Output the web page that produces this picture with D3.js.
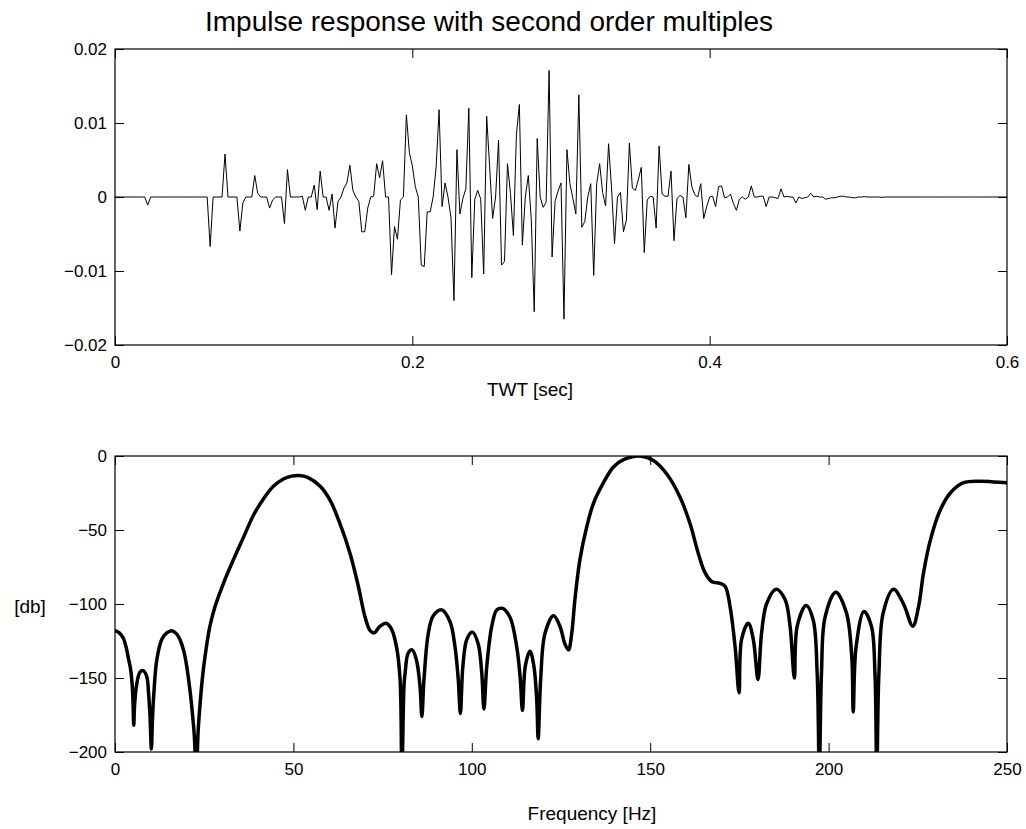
<!DOCTYPE html>
<html>
<head>
<meta charset="utf-8">
<script src="https://cdn.jsdelivr.net/npm/d3@7"></script>
<style>
    body { margin: 0; background: #fff; }
    svg { font-family: Arial, "Liberation Sans", sans-serif; }
    .tick line { stroke: #000; }
    .tick text { fill: #000; }
</style>
</head>
<body>
<div id="chart"></div>
<script>
// impulse response, one sample every 2 ms, values in units of 1e-3
const sampleStep = 0.002;
const impulseMilli = [
    0, 0, 0, 0, 0, 0, 0, 0, 0, 0,
    0, -1.1, 0, 0, 0, 0, 0, 0, 0, 0,
    0, 0, 0, 0, 0, 0, 0, 0, 0, 0,
    0, 0, -6.7, 0, 0, 0, 0, 5.8, 0, 0,
    0, 0, -4.6, -0.8, 0, 0, 0, 2.9, 0.5, 0,
    0, 0, -1.5, -0.4, 0, 0, 0, -3.6, 3.7, 0,
    0, 0, 0, 0.1, -1.8, 0, 0, 1.6, -1.7, 3.5,
    0, 0, -1.8, 0.4, -4.2, -0.6, 0, 1.2, 1.9, 4.3,
    0.9, 0, -0.6, -4.7, -4.7, -1.5, 0, 0.1, 4.5, 2.6,
    4.9, 0, 0, -10.5, -4.0, -5.7, -0.4, 0, 11.1, 6.0,
    4.2, 1.4, 0, -9.2, -9.4, -2.0, -2.0, 0, 4.0, 11.8,
    -1.3, 1.9, 0, -2.8, -14.0, 6.4, -2.3, -0.2, 1.1, 12.0,
    -10.9, -0.3, 0.9, -0.3, -10.4, 10.9, 4.1, -2.9, 0, 7.7,
    -9.2, -8.7, 4.5, 0.5, -5.2, 8.4, 12.5, -6.5, 0, 2.9,
    -3.0, -15.5, 7.9, 0, -1.4, -0.7, 17.1, -8.1, -0.6, 0.8,
    1.9, -16.5, 6.4, 1.8, -0.2, -2.3, 13.8, -4.1, -3.3, 0,
    1.8, -10.6, 1.8, 4.5, 0.6, -1.2, 7.2, 1.2, -6.3, 0,
    0.6, -4.7, -3.1, 7.3, 1.2, 0.9, 2.3, 4.0, -7.5, -0.4,
    0.1, 0, -4.2, 6.9, 0.4, 0.1, 0.1, 3.5, -5.9, -0.2,
    0.2, 0, -2.8, 4.4, 1.4, 0.3, 0, 1.8, -2.9, -1.3,
    0, 0.1, -1.3, 1.4, 1.5, -0.1, 0, 0.4, -0.9, -1.8,
    -0.3, 0, -0.3, 0, 1.5, 0, 0, 0.1, 0.1, -1.3,
    0, 0, -0.1, -0.2, 1.1, 0, 0.1, 0, 0, -0.8,
    0, -0.2, -0.1, 0, 0.5, 0, 0.1, 0, 0, -0.3,
    -0.2, -0.1, -0.1, 0, 0.1, 0.1, 0, 0, -0.1, -0.1,
    0, 0, 0.05, 0, 0, 0, 0, 0, -0.05, 0,
    0, 0, 0, 0, 0, 0, 0, 0, 0, 0,
    0, 0, 0, 0, 0, 0, 0, 0, 0, 0,
    0, 0, 0, 0, 0, 0, 0, 0, 0, 0,
    0, 0, 0, 0, 0, 0, 0, 0, 0, 0,
    0
];

// amplitude spectrum
const freqHz = [
    0, 1.2, 2.3, 3.2, 3.7, 4.3, 4.7, 5.0, 5.25, 5.5,
    6.1, 7.0, 7.9, 8.9, 9.4, 9.8, 10.2, 10.5, 10.9, 11.7,
    13.1, 14.5, 15.9, 17.2, 18.2, 19.3, 20.1, 21.0, 21.5, 22.2,
    22.8, 23.3, 23.8, 24.5, 25.2, 26.6, 28.0, 30.4, 33.2, 36.0,
    38.8, 41.6, 44.4, 47.2, 49.5, 51.6, 54.0, 57.5, 60.3, 63.1, 65.9,
    68.2, 70.1, 71.5, 72.6, 74.3, 76.0, 77.5, 78.9, 79.9, 80.4,
    81.0, 81.3, 82.2, 83.3, 84.5, 85.5, 86.0, 86.6, 87.8, 89.2,
    91.6, 93.9, 95.3, 96.2, 96.8, 97.5, 98.6, 100.2, 101.8, 102.8,
    103.4, 104.2, 105.6, 107.0, 108.6, 110.7, 112.6, 113.6, 114.2, 115.0,
    116.3, 117.4, 118.2, 118.6, 119.3, 120.5, 122.9, 124.7, 126.1, 127.1,
    128.0, 128.9, 130.3, 132.2, 134.1, 136.9, 139.7, 142.5, 147.1, 150.9,
    154.6, 158.4, 161.2, 163.5, 165.4, 167.3, 169.6, 171.0, 172.4, 173.8,
    174.9, 175.6, 177.5, 178.9, 180.2, 181.2, 182.6, 185.3, 187.8, 189.2,
    190.4, 191.2, 193.7, 195.7, 196.8, 197.4, 198.0, 199.0, 202.0, 205.0,
    206.5, 206.9, 207.7, 209.9, 212.0, 213.0, 213.5, 214.1, 215.3, 218.2,
    221.0, 223.6, 225.2, 226.6, 228.5, 231.2, 234.1, 237.8, 242.5, 246.2,
    250
];
const gainDb = [
    -118, -119.5, -123, -130, -136, -143, -151, -163, -182, -168,
    -154, -146, -145, -149, -160, -175, -198, -178, -160, -138,
    -124, -119.5, -118, -120, -124, -132, -142, -158, -169, -188,
    -215, -186, -169, -150, -136, -115, -102, -86, -70, -55,
    -40, -29, -20.5, -15.5, -13.6, -13.2, -14.4, -20.5, -30, -46, -66,
    -88, -109, -118, -119.5, -115, -113, -117, -129, -151, -215,
    -155, -147, -133, -131, -138, -156, -176, -151, -120, -108,
    -104, -112, -129, -151, -174, -142, -124, -119, -127, -147,
    -171, -142, -115, -104, -103, -109, -129, -151, -172, -142,
    -132, -142, -165, -191, -151, -120, -108, -115, -127, -131,
    -120, -97, -70, -48, -32, -18, -7.4, -2.5, 0, -3,
    -12, -28, -46, -66, -79, -85, -86, -88, -102, -129,
    -160, -124, -113, -124, -151, -120, -100, -90, -97, -115,
    -150, -115, -101, -111, -147, -215, -147, -109, -92, -106,
    -136, -173, -129, -105, -115, -147, -215, -147, -106, -90,
    -100, -115, -102, -79, -57, -37, -25, -18, -17, -17.5,
    -18
];

const timeTicks = [0, 0.2, 0.4, 0.6];
const timeTickLabels = ["0", "0.2", "0.4", "0.6"];
const ampTicks = [-0.02, -0.01, 0, 0.01, 0.02];
const ampTickLabels = ["\u22120.02", "\u22120.01", "0", "0.01", "0.02"];
const freqTicks = [0, 50, 100, 150, 200, 250];
const freqTickLabels = ["0", "50", "100", "150", "200", "250"];
const dbTicks = [-200, -150, -100, -50, 0];
const dbTickLabels = ["\u2212200", "\u2212150", "\u2212100", "\u221250", "0"];

const width = 1026, height = 829;
const plotLeft = 115, plotRight = 1007;
const topPanel = {top: 49, bottom: 345};
const bottomPanel = {top: 456, bottom: 752};
const tickLen = 9;
const tickFont = "17px";
const labelFont = "19px";

let svg = d3.select("#chart")
    .append("svg")
    .attr("width", width)
    .attr("height", height);

svg.append("rect")
    .attr("width", width)
    .attr("height", height)
    .attr("fill", "#fff");

function drawFrame(x, y, xTicks, xLabels, yTicks, yLabels, panel) {
    /**
     * Box with inward ticks on all four sides, labels bottom and left
     */
    let fmt = (ticks, labels) => d => labels[ticks.indexOf(d)];

    svg.append("g")
        .attr("transform", "translate(0," + panel.bottom + ")")
        .call(d3.axisBottom(x).tickValues(xTicks).tickSize(-tickLen).tickPadding(11)
            .tickFormat(fmt(xTicks, xLabels)))
        .call(g => g.select(".domain").remove())
        .selectAll("text").style("font-size", tickFont);

    svg.append("g")
        .attr("transform", "translate(0," + panel.top + ")")
        .call(d3.axisTop(x).tickValues(xTicks).tickSize(-tickLen).tickFormat(""))
        .call(g => g.select(".domain").remove());

    svg.append("g")
        .attr("transform", "translate(" + plotLeft + ",0)")
        .call(d3.axisLeft(y).tickValues(yTicks).tickSize(-tickLen).tickPadding(8)
            .tickFormat(fmt(yTicks, yLabels)))
        .call(g => g.select(".domain").remove())
        .selectAll("text").style("font-size", tickFont);

    svg.append("g")
        .attr("transform", "translate(" + plotRight + ",0)")
        .call(d3.axisRight(y).tickValues(yTicks).tickSize(-tickLen).tickFormat(""))
        .call(g => g.select(".domain").remove());

    svg.append("rect")
        .attr("x", plotLeft)
        .attr("y", panel.top)
        .attr("width", plotRight - plotLeft)
        .attr("height", panel.bottom - panel.top)
        .attr("fill", "none")
        .attr("stroke", "#000")
        .attr("stroke-width", 1.2);
}

// ---- top panel: impulse response
let xTime = d3.scaleLinear().domain([0, 0.6]).range([plotLeft, plotRight]);
let yAmp = d3.scaleLinear().domain([-0.02, 0.02]).range([topPanel.bottom, topPanel.top]);

let impulse = impulseMilli.map((v, i) => [i * sampleStep, v / 1000]);

svg.append("path")
    .datum(impulse)
    .attr("fill", "none")
    .attr("stroke", "#000")
    .attr("stroke-width", 1)
    .attr("stroke-linejoin", "miter")
    .attr("d", d3.line().x(d => xTime(d[0])).y(d => yAmp(d[1])));

drawFrame(xTime, yAmp, timeTicks, timeTickLabels, ampTicks, ampTickLabels, topPanel);

svg.append("text")
    .attr("x", 489)
    .attr("y", 31)
    .attr("text-anchor", "middle")
    .style("font-size", "28px")
    .text("Impulse response with second order multiples");

svg.append("text")
    .attr("x", 530)
    .attr("y", 396)
    .attr("text-anchor", "middle")
    .style("font-size", labelFont)
    .text("TWT [sec]");

// ---- bottom panel: spectrum in db
let xFreq = d3.scaleLinear().domain([0, 250]).range([plotLeft, plotRight]);
let yDb = d3.scaleLinear().domain([-200, 0]).range([bottomPanel.bottom, bottomPanel.top]);

svg.append("clipPath")
    .attr("id", "clip-bottom")
    .append("rect")
    .attr("x", plotLeft)
    .attr("y", bottomPanel.top)
    .attr("width", plotRight - plotLeft)
    .attr("height", bottomPanel.bottom - bottomPanel.top);

let spectrum = freqHz.map((f, i) => [f, gainDb[i]]);

svg.append("path")
    .datum(spectrum)
    .attr("clip-path", "url(#clip-bottom)")
    .attr("fill", "none")
    .attr("stroke", "#000")
    .attr("stroke-width", 3.5)
    .attr("stroke-linejoin", "round")
    .attr("stroke-linecap", "round")
    .attr("d", d3.line()
        .curve(d3.curveCatmullRom.alpha(0.5))
        .x(d => xFreq(d[0]))
        .y(d => yDb(d[1])));

drawFrame(xFreq, yDb, freqTicks, freqTickLabels, dbTicks, dbTickLabels, bottomPanel);

svg.append("text")
    .attr("x", 592)
    .attr("y", 820)
    .attr("text-anchor", "middle")
    .style("font-size", labelFont)
    .text("Frequency [Hz]");

svg.append("text")
    .attr("x", 30)
    .attr("y", 613)
    .attr("text-anchor", "middle")
    .style("font-size", labelFont)
    .text("[db]");
</script>
</body>
</html>
